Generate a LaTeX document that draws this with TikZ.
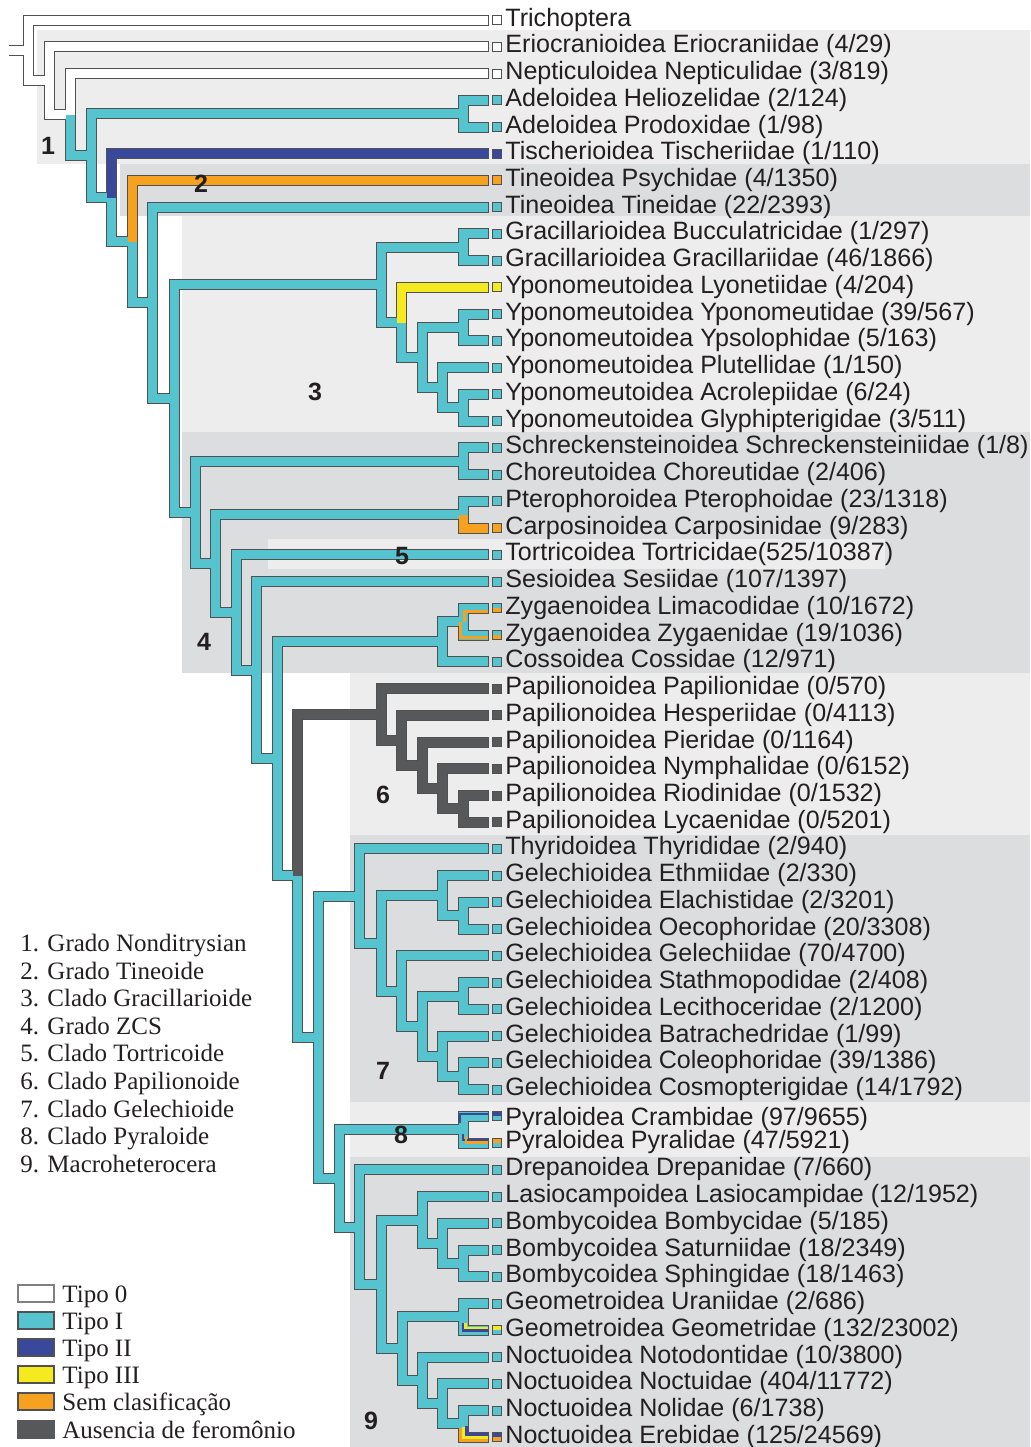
\documentclass[tikz,border=0pt]{standalone}
\usepackage{fontspec}
\setmainfont{Liberation Serif}
\setsansfont{Liberation Sans}
\definecolor{tl}{HTML}{55C4CF}
\definecolor{bl}{HTML}{3A489C}
\definecolor{ye}{HTML}{F5EA1F}
\definecolor{og}{HTML}{F6A11F}
\definecolor{dg}{HTML}{57585A}
\definecolor{outl}{HTML}{4F5152}
\definecolor{bglight}{HTML}{EDEDED}
\definecolor{bgdark}{HTML}{DCDDDE}
\definecolor{txt}{HTML}{231F20}
\tikzset{
  sq/.style={draw=outl, fill=#1, line width=0.5pt, minimum size=4.5pt, inner sep=0pt, outer sep=2.2pt},
  sqq/.style 2 args={sq=#1, path picture={\fill[#2] (path picture bounding box.west) rectangle (path picture bounding box.south east);}},
  tx/.style={anchor=base west, inner sep=0pt, text=txt, font=\sffamily\fontsize{12.55pt}{14pt}\selectfont},
  num/.style={inner sep=0pt, text=txt, font=\sffamily\bfseries\fontsize{12.5pt}{14pt}\selectfont},
  legtx/.style={anchor=base west, inner sep=0pt, text=txt, font=\rmfamily\fontsize{12.5pt}{14pt}\selectfont},
  keybox/.style={draw=#1, line width=1pt, minimum width=18pt, minimum height=8.5pt, inner sep=0pt},
  stripe/.style={draw=#1, line width=1.5pt}
}
% branches, drawn twice: outline, then colour
\newcommand\lepitree{%
  \draw[br=white] (stub) -- (root);
  \draw[br=white] (root) |- (l0);
  \draw[br=white] (root) |- (n1);
  \draw[br=white] (n1) |- (l1);
  \draw[br=white] (n1) |- (n2);
  \draw[br=white] (n2) |- (l2);
  \draw[br=tl] (n2) |- (n3);
  \draw[br=tl] (n3) |- (n4);
  \draw[br=tl] (n3) |- (n5);
  \draw[br=tl] (n4) |- (l3);
  \draw[br=tl] (n4) |- (l4);
  \draw[br=bl] (n5) |- (l5);
  \draw[br=tl] (n5) |- (n6);
  \draw[br=og] (n6) |- (l6);
  \draw[br=tl] (n6) |- (n7);
  \draw[br=tl] (n7) |- (l7);
  \draw[br=tl] (n7) |- (n8);
  \draw[br=tl] (n8) |- (n9);
  \draw[br=tl] (n8) |- (n16);
  \draw[br=tl] (n9) |- (n10);
  \draw[br=tl] (n9) |- (n11);
  \draw[br=tl] (n10) |- (l8);
  \draw[br=tl] (n10) |- (l9);
  \draw[br=ye] (n11) |- (l10);
  \draw[br=tl] (n11) |- (n12);
  \draw[br=tl] (n12) |- (n13);
  \draw[br=tl] (n12) |- (n14);
  \draw[br=tl] (n13) |- (l11);
  \draw[br=tl] (n13) |- (l12);
  \draw[br=tl] (n14) |- (l13);
  \draw[br=tl] (n14) |- (n15);
  \draw[br=tl] (n15) |- (l14);
  \draw[br=tl] (n15) |- (l15);
  \draw[br=tl] (n16) |- (n17);
  \draw[br=tl] (n16) |- (n18);
  \draw[br=tl] (n17) |- (l16);
  \draw[br=tl] (n17) |- (l17);
  \draw[br=tl] (n18) |- (n19);
  \draw[br=tl] (n18) |- (n20);
  \draw[br=tl] (n19) |- (l18);
  \draw[br=og] (n19) |- (l19);
  \draw[br=tl] (n20) |- (l20);
  \draw[br=tl] (n20) |- (n21);
  \draw[br=tl] (n21) |- (l21);
  \draw[br=tl] (n21) |- (n22);
  \draw[br=tl] (n22) |- (n23);
  \draw[br=tl] (n22) |- (n25);
  \draw[br=tl] (n23) |- (n24);
  \draw[br=tl] (n23) |- (l24);
  \draw[br=tl] (n24) |- (l22);
  \draw[br=tl] (n24) |- (l23);
  \draw[br=dg] (n25) |- (n26);
  \draw[br=tl] (n25) |- (n31);
  \draw[br=dg] (n26) |- (l25);
  \draw[br=dg] (n26) |- (n27);
  \draw[br=dg] (n27) |- (l26);
  \draw[br=dg] (n27) |- (n28);
  \draw[br=dg] (n28) |- (l27);
  \draw[br=dg] (n28) |- (n29);
  \draw[br=dg] (n29) |- (l28);
  \draw[br=dg] (n29) |- (n30);
  \draw[br=dg] (n30) |- (l29);
  \draw[br=dg] (n30) |- (l30);
  \draw[br=tl] (n31) |- (n32);
  \draw[br=tl] (n31) |- (n41);
  \draw[br=tl] (n32) |- (l31);
  \draw[br=tl] (n32) |- (n33);
  \draw[br=tl] (n33) |- (n34);
  \draw[br=tl] (n33) |- (n36);
  \draw[br=tl] (n34) |- (l32);
  \draw[br=tl] (n34) |- (n35);
  \draw[br=tl] (n35) |- (l33);
  \draw[br=tl] (n35) |- (l34);
  \draw[br=tl] (n36) |- (l35);
  \draw[br=tl] (n36) |- (n37);
  \draw[br=tl] (n37) |- (n38);
  \draw[br=tl] (n37) |- (n39);
  \draw[br=tl] (n38) |- (l36);
  \draw[br=tl] (n38) |- (l37);
  \draw[br=tl] (n39) |- (l38);
  \draw[br=tl] (n39) |- (n40);
  \draw[br=tl] (n40) |- (l39);
  \draw[br=tl] (n40) |- (l40);
  \draw[br=tl] (n41) |- (n42);
  \draw[br=tl] (n41) |- (n43);
  \draw[br=tl] (n42) |- (l41);
  \draw[br=tl] (n42) |- (l42);
  \draw[br=tl] (n43) |- (l43);
  \draw[br=tl] (n43) |- (n44);
  \draw[br=tl] (n44) |- (n45);
  \draw[br=tl] (n44) |- (n48);
  \draw[br=tl] (n45) |- (l44);
  \draw[br=tl] (n45) |- (n46);
  \draw[br=tl] (n46) |- (l45);
  \draw[br=tl] (n46) |- (n47);
  \draw[br=tl] (n47) |- (l46);
  \draw[br=tl] (n47) |- (l47);
  \draw[br=tl] (n48) |- (n49);
  \draw[br=tl] (n48) |- (n50);
  \draw[br=tl] (n49) |- (l48);
  \draw[br=tl] (n49) |- (l49);
  \draw[br=tl] (n50) |- (l50);
  \draw[br=tl] (n50) |- (n51);
  \draw[br=tl] (n51) |- (l51);
  \draw[br=tl] (n51) |- (n52);
  \draw[br=tl] (n52) |- (l52);
  \draw[br=tl] (n52) |- (l53);
}
\begin{document}
\begin{tikzpicture}[x=0.5pt, y=-0.5pt]
  \useasboundingbox (0,0) rectangle (1030,1447);
  % shaded groups
  \fill[bglight] (37,30) rectangle (1030,164);
  \fill[bgdark] (120,164) rectangle (1030,216);
  \fill[bglight] (182,216) rectangle (1030,432);
  \fill[bgdark] (182,432) rectangle (1030,673);
  \fill[bglight] (268,539) rectangle (885,569);
  \fill[bglight] (350,673) rectangle (1030,835);
  \fill[bgdark] (350,835) rectangle (1030,1102);
  \fill[bglight] (350,1102) rectangle (1030,1157);
  \fill[bgdark] (350,1157) rectangle (1030,1447);
  % inner nodes
  \coordinate (stub) at (9,50.3);
  \coordinate (root) at (28,50.3);
  \coordinate (n1) at (49,80.65);
  \coordinate (n2) at (70,114.6);
  \coordinate (n3) at (91,155.65);
  \coordinate (n4) at (463,113.6);
  \coordinate (n5) at (111,197.7);
  \coordinate (n6) at (132,241.65);
  \coordinate (n7) at (152,302.9);
  \coordinate (n8) at (174,398.65);
  \coordinate (n9) at (381,284.9);
  \coordinate (n10) at (463,247.3);
  \coordinate (n11) at (401,322.5);
  \coordinate (n12) at (422,357.6);
  \coordinate (n13) at (463,327.5);
  \coordinate (n14) at (442,387.7);
  \coordinate (n15) at (463,407.75);
  \coordinate (n16) at (195,512.4);
  \coordinate (n17) at (463,461.2);
  \coordinate (n18) at (215,563.6);
  \coordinate (n19) at (463,514.7);
  \coordinate (n20) at (236,612.5);
  \coordinate (n21) at (256,670.15);
  \coordinate (n22) at (277,758.8);
  \coordinate (n23) at (442,641.7);
  \coordinate (n24) at (463,621.65);
  \coordinate (n25) at (297,875.85);
  \coordinate (n26) at (381,714.4);
  \coordinate (n27) at (401,740.3);
  \coordinate (n28) at (422,765.4);
  \coordinate (n29) at (442,788.8);
  \coordinate (n30) at (463,808.85);
  \coordinate (n31) at (318,1037.3);
  \coordinate (n32) at (359,896.2);
  \coordinate (n33) at (381,943.4);
  \coordinate (n34) at (442,895.75);
  \coordinate (n35) at (463,915.8);
  \coordinate (n36) at (401,991.0);
  \coordinate (n37) at (422,1026.1);
  \coordinate (n38) at (463,996.0);
  \coordinate (n39) at (442,1056.2);
  \coordinate (n40) at (463,1076.25);
  \coordinate (n41) at (339,1178.4);
  \coordinate (n42) at (463,1129.7);
  \coordinate (n43) at (359,1227.05);
  \coordinate (n44) at (381,1284.3);
  \coordinate (n45) at (422,1220.0);
  \coordinate (n46) at (442,1243.35);
  \coordinate (n47) at (463,1263.4);
  \coordinate (n48) at (402,1348.65);
  \coordinate (n49) at (463,1316.9);
  \coordinate (n50) at (422,1380.4);
  \coordinate (n51) at (442,1403.8);
  \coordinate (n52) at (463,1423.85);
  % leaves
  \path
    (497,20.0) node[sq=white] (l0) {}
    (497,46.7) node[sq=white] (l1) {}
    (497,73.5) node[sq=white] (l2) {}
    (497,100.2) node[sq=tl] (l3) {}
    (497,127.0) node[sq=tl] (l4) {}
    (497,153.7) node[sq=bl] (l5) {}
    (497,180.4) node[sq=og] (l6) {}
    (497,207.2) node[sq=tl] (l7) {}
    (497,233.9) node[sq=tl] (l8) {}
    (497,260.7) node[sq=tl] (l9) {}
    (497,287.4) node[sq=ye] (l10) {}
    (497,314.1) node[sq=tl] (l11) {}
    (497,340.9) node[sq=tl] (l12) {}
    (497,367.6) node[sq=tl] (l13) {}
    (497,394.4) node[sq=tl] (l14) {}
    (497,421.1) node[sq=tl] (l15) {}
    (497,447.8) node[sq=tl] (l16) {}
    (497,474.6) node[sq=tl] (l17) {}
    (497,501.3) node[sq=tl] (l18) {}
    (497,528.1) node[sq=og] (l19) {}
    (497,554.8) node[sq=tl] (l20) {}
    (497,581.5) node[sq=tl] (l21) {}
    (497,608.3) node[sqq={tl}{og}] (l22) {}
    (497,635.0) node[sqq={tl}{og}] (l23) {}
    (497,661.8) node[sq=tl] (l24) {}
    (497,688.5) node[sq=dg] (l25) {}
    (497,715.2) node[sq=dg] (l26) {}
    (497,742.0) node[sq=dg] (l27) {}
    (497,768.7) node[sq=dg] (l28) {}
    (497,795.5) node[sq=dg] (l29) {}
    (497,822.2) node[sq=dg] (l30) {}
    (497,848.9) node[sq=tl] (l31) {}
    (497,875.7) node[sq=tl] (l32) {}
    (497,902.4) node[sq=tl] (l33) {}
    (497,929.2) node[sq=tl] (l34) {}
    (497,955.9) node[sq=tl] (l35) {}
    (497,982.6) node[sq=tl] (l36) {}
    (497,1009.4) node[sq=tl] (l37) {}
    (497,1036.1) node[sq=tl] (l38) {}
    (497,1062.9) node[sq=tl] (l39) {}
    (497,1089.6) node[sq=tl] (l40) {}
    (497,1116.3) node[sqq={bl}{tl}] (l41) {}
    (497,1143.1) node[sqq={og}{tl}] (l42) {}
    (497,1169.8) node[sq=tl] (l43) {}
    (497,1196.6) node[sq=tl] (l44) {}
    (497,1223.3) node[sq=tl] (l45) {}
    (497,1250.0) node[sq=tl] (l46) {}
    (497,1276.8) node[sq=tl] (l47) {}
    (497,1303.5) node[sq=tl] (l48) {}
    (497,1330.3) node[sqq={ye}{tl}] (l49) {}
    (497,1357.0) node[sq=tl] (l50) {}
    (497,1383.7) node[sq=tl] (l51) {}
    (497,1410.5) node[sq=tl] (l52) {}
    (497,1437.2) node[sqq={bl}{og}] (l53) {};
  \begin{scope}[br/.style={draw=outl, line width=5.5pt, shorten >=-0.5pt}]
    \lepitree
  \end{scope}
  \begin{scope}[br/.style={draw=#1, line width=4.5pt}]
    \lepitree
  \end{scope}
  % mixed branches
  \draw[stripe=og] ([xshift=0.9pt]n24) |- ([yshift=-1.75pt]l22.west);
  \draw[stripe=og] ([xshift=-1.25pt]n24) |- ([yshift=-1.15pt]l23.west);
  \draw[stripe=bl, line width=1.25pt] ([xshift=-1.6pt, yshift=3.3pt]n42) |- ([yshift=1.15pt]l41.west);
  \draw[stripe=bl, line width=1pt] ([xshift=0.15pt, yshift=-2.15pt]n42) |- ([yshift=1.75pt]l42.west);
  \draw[stripe=og, line width=1.3pt] ([xshift=1.4pt, yshift=-3.15pt]n42) |- ([yshift=0.4pt]l42.west);
  \draw[stripe=bl, line width=1.15pt] ([xshift=0.1pt, yshift=-3.05pt]n49) |- ([yshift=-0.1pt]l49.west);
  \draw[stripe=ye, line width=1.3pt] ([xshift=1.25pt, yshift=-2.9pt]n49) |- ([yshift=1.15pt]l49.west);
  \draw[stripe=og] ([xshift=-1.5pt, yshift=-2.1pt]n52) |- ([yshift=-1.5pt]l53.west);
  \draw[stripe=ye] ([yshift=-1.6pt]n52) |- (l53.west);
  \draw[stripe=bl] ([xshift=1.5pt, yshift=-1.1pt]n52) |- ([yshift=1.5pt]l53.west);
  % leaf names
  \path
    (505,26.0) node[tx] (t0) {Trichoptera}
    (505,52.7) node[tx] (t1) {Eriocranioidea Eriocraniidae (4/29)}
    (505,79.5) node[tx] (t2) {Nepticuloidea Nepticulidae (3/819)}
    (505,106.2) node[tx] (t3) {Adeloidea Heliozelidae (2/124)}
    (505,133.0) node[tx] (t4) {Adeloidea Prodoxidae (1/98)}
    (505,159.7) node[tx] (t5) {Tischerioidea Tischeriidae (1/110)}
    (505,186.4) node[tx] (t6) {Tineoidea Psychidae (4/1350)}
    (505,213.2) node[tx] (t7) {Tineoidea Tineidae (22/2393)}
    (505,239.9) node[tx] (t8) {Gracillarioidea Bucculatricidae (1/297)}
    (505,266.7) node[tx] (t9) {Gracillarioidea Gracillariidae (46/1866)}
    (505,293.4) node[tx] (t10) {Yponomeutoidea Lyonetiidae (4/204)}
    (505,320.1) node[tx] (t11) {Yponomeutoidea Yponomeutidae (39/567)}
    (505,346.9) node[tx] (t12) {Yponomeutoidea Ypsolophidae (5/163)}
    (505,373.6) node[tx] (t13) {Yponomeutoidea Plutellidae (1/150)}
    (505,400.4) node[tx] (t14) {Yponomeutoidea Acrolepiidae (6/24)}
    (505,427.1) node[tx] (t15) {Yponomeutoidea Glyphipterigidae (3/511)}
    (505,453.8) node[tx] (t16) {Schreckensteinoidea Schreckensteiniidae (1/8)}
    (505,480.6) node[tx] (t17) {Choreutoidea Choreutidae (2/406)}
    (505,507.3) node[tx] (t18) {Pterophoroidea Pterophoidae (23/1318)}
    (505,534.1) node[tx] (t19) {Carposinoidea Carposinidae (9/283)}
    (505,560.8) node[tx] (t20) {Tortricoidea Tortricidae(525/10387)}
    (505,587.5) node[tx] (t21) {Sesioidea Sesiidae (107/1397)}
    (505,614.3) node[tx] (t22) {Zygaenoidea Limacodidae (10/1672)}
    (505,641.0) node[tx] (t23) {Zygaenoidea Zygaenidae (19/1036)}
    (505,667.8) node[tx] (t24) {Cossoidea Cossidae (12/971)}
    (505,694.5) node[tx] (t25) {Papilionoidea Papilionidae (0/570)}
    (505,721.2) node[tx] (t26) {Papilionoidea Hesperiidae (0/4113)}
    (505,748.0) node[tx] (t27) {Papilionoidea Pieridae (0/1164)}
    (505,774.7) node[tx] (t28) {Papilionoidea Nymphalidae (0/6152)}
    (505,801.5) node[tx] (t29) {Papilionoidea Riodinidae (0/1532)}
    (505,828.2) node[tx] (t30) {Papilionoidea Lycaenidae (0/5201)}
    (505,854.9) node[tx] (t31) {Thyridoidea Thyrididae (2/940)}
    (505,881.7) node[tx] (t32) {Gelechioidea Ethmiidae (2/330)}
    (505,908.4) node[tx] (t33) {Gelechioidea Elachistidae (2/3201)}
    (505,935.2) node[tx] (t34) {Gelechioidea Oecophoridae (20/3308)}
    (505,961.9) node[tx] (t35) {Gelechioidea Gelechiidae (70/4700)}
    (505,988.6) node[tx] (t36) {Gelechioidea Stathmopodidae (2/408)}
    (505,1015.4) node[tx] (t37) {Gelechioidea Lecithoceridae (2/1200)}
    (505,1042.1) node[tx] (t38) {Gelechioidea Batrachedridae (1/99)}
    (505,1068.9) node[tx] (t39) {Gelechioidea Coleophoridae (39/1386)}
    (505,1095.6) node[tx] (t40) {Gelechioidea Cosmopterigidae (14/1792)}
    (505,1125.0) node[tx] (t41) {Pyraloidea Crambidae (97/9655)}
    (505,1148.0) node[tx] (t42) {Pyraloidea Pyralidae (47/5921)}
    (505,1175.8) node[tx] (t43) {Drepanoidea Drepanidae (7/660)}
    (505,1202.6) node[tx] (t44) {Lasiocampoidea Lasiocampidae (12/1952)}
    (505,1229.3) node[tx] (t45) {Bombycoidea Bombycidae (5/185)}
    (505,1256.0) node[tx] (t46) {Bombycoidea Saturniidae (18/2349)}
    (505,1282.8) node[tx] (t47) {Bombycoidea Sphingidae (18/1463)}
    (505,1309.5) node[tx] (t48) {Geometroidea Uraniidae (2/686)}
    (505,1336.3) node[tx] (t49) {Geometroidea Geometridae (132/23002)}
    (505,1363.0) node[tx] (t50) {Noctuoidea Notodontidae (10/3800)}
    (505,1389.7) node[tx] (t51) {Noctuoidea Noctuidae (404/11772)}
    (505,1416.5) node[tx] (t52) {Noctuoidea Nolidae (6/1738)}
    (505,1443.2) node[tx] (t53) {Noctuoidea Erebidae (125/24569)};
  % group numbers
  \node[num] (g1) at (48,146) {1};
  \node[num] (g2) at (201,183.5) {2};
  \node[num] (g3) at (315,392) {3};
  \node[num] (g4) at (204,642) {4};
  \node[num] (g5) at (402,556) {5};
  \node[num] (g6) at (383,795) {6};
  \node[num] (g7) at (383,1071) {7};
  \node[num] (g8) at (401,1135) {8};
  \node[num] (g9) at (371,1421) {9};
  % group legend
  \node[legtx] (c1) at (20,951.5) {1. Grado Nonditrysian};
  \node[legtx] (c2) at (20,979.1) {2. Grado Tineoide};
  \node[legtx] (c3) at (20,1006.7) {3. Clado Gracillarioide};
  \node[legtx] (c4) at (20,1034.3) {4. Grado ZCS};
  \node[legtx] (c5) at (20,1061.9) {5. Clado Tortricoide};
  \node[legtx] (c6) at (20,1089.5) {6. Clado Papilionoide};
  \node[legtx] (c7) at (20,1117.1) {7. Clado Gelechioide};
  \node[legtx] (c8) at (20,1144.7) {8. Clado Pyraloide};
  \node[legtx] (c9) at (20,1172.3) {9. Macroheterocera};
  % colour key
  \node[keybox=gray, fill=white] (k0) at (36,1293) {};
  \node[keybox=outl, fill=tl] (k1) at (36,1320.2) {};
  \node[keybox=outl, fill=bl] (k2) at (36,1347.4) {};
  \node[keybox=outl, fill=ye] (k3) at (36,1374.6) {};
  \node[keybox=outl, fill=og] (k4) at (36,1401.8) {};
  \node[keybox=dg, fill=dg] (k5) at (36,1429) {};
  \node[legtx] (k0t) at (62,1302) {Tipo 0};
  \node[legtx] (k1t) at (62,1329.2) {Tipo I};
  \node[legtx] (k2t) at (62,1356.4) {Tipo II};
  \node[legtx] (k3t) at (62,1383.6) {Tipo III};
  \node[legtx] (k4t) at (62,1410.8) {Sem clasificação};
  \node[legtx] (k5t) at (62,1438) {Ausencia de feromônio};
\end{tikzpicture}
\end{document}
